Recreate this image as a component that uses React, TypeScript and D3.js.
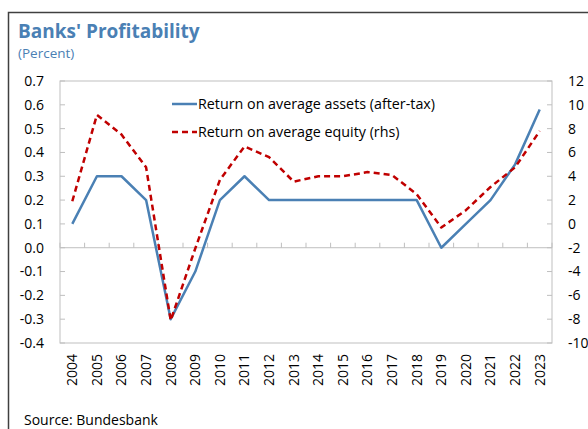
import React from "react";
import * as d3 from "d3";

const years = ["2004","2005","2006","2007","2008","2009","2010","2011","2012","2013","2014","2015","2016","2017","2018","2019","2020","2021","2022","2023"];
const roa = [0.1,0.3,0.3,0.2,-0.3,-0.1,0.2,0.3,0.2,0.2,0.2,0.2,0.2,0.2,0.2,0.0,0.1,0.2,0.35,0.58];
const roe = [1.9,9.15,7.5,4.75,-8.1,-2.05,3.7,6.5,5.6,3.55,4.0,4.0,4.35,4.1,2.5,-0.3,1.15,3.1,4.75,7.8];
const leftTicks = [0.7,0.6,0.5,0.4,0.3,0.2,0.1,0.0,-0.1,-0.2,-0.3,-0.4];
const rightTicks = [12,10,8,6,4,2,0,-2,-4,-6,-8,-10];
const seriesNames = ["Return on average assets (after-tax)", "Return on average equity (rhs)"];

const W = 588, H = 429;
const FONT = "'Open Sans', 'Noto Sans', sans-serif";
const BLUE = "#4a80b4";
const RED = "#c00000";
const GRID = "#bfbfbf";

export default function App() {
  const plotL = 60, plotR = 552, plotT = 81, plotB = 343;
  const x = d3.scaleBand<string>().domain(years).range([plotL, plotR]).padding(0);
  const bw = x.bandwidth();
  const cx = (y: string) => (x(y) as number) + bw / 2;
  const yL = d3.scaleLinear().domain([-0.4, 0.7]).range([plotB, plotT]);
  const yR = d3.scaleLinear().domain([-10, 12]).range([plotB, plotT]);

  const lineL = d3.line<number>().x((_, i) => cx(years[i])).y((d) => yL(d));
  const lineR = d3.line<number>().x((_, i) => cx(years[i])).y((d) => yR(d));

  const zeroY = yL(0);

  return (
    <svg width={W} height={H} style={{ position: "absolute", left: 0, top: 0 }} fontFamily={FONT}>
      <rect x={0} y={0} width={W} height={H} fill="#fff" />
      <rect x={8.5} y={12.5} width={W + 20} height={H + 20} fill="none" stroke="#404040" strokeWidth={1.5} />
      <text x={18} y={38} fill={BLUE} fontSize={19} fontWeight="bold">Banks' Profitability</text>
      <text x={18} y={58} fill={BLUE} fontSize={13.5}>(Percent)</text>

      {/* plot frame */}
      <rect x={plotL} y={plotT} width={plotR - plotL} height={plotB - plotT} fill="none" stroke={GRID} strokeWidth={1} />
      {/* zero line */}
      <line x1={plotL} x2={plotR} y1={zeroY} y2={zeroY} stroke={GRID} strokeWidth={1} />
      {d3.range(years.length + 1).map((i) => {
        const xx = plotL + i * bw;
        return <line key={"xt" + i} x1={xx} x2={xx} y1={zeroY} y2={zeroY - 5} stroke={GRID} strokeWidth={1} />;
      })}

      {/* left axis */}
      {leftTicks.map((t) => (
        <g key={"l" + t}>
          <line x1={plotL} x2={plotL + 5} y1={yL(t)} y2={yL(t)} stroke={GRID} />
          <text x={44} y={yL(t)} dy="0.35em" textAnchor="end" fontSize={14} fill="#000">{t.toFixed(1)}</text>
        </g>
      ))}
      {/* right axis */}
      {rightTicks.map((t) => (
        <g key={"r" + t}>
          <line x1={plotR - 5} x2={plotR} y1={yR(t)} y2={yR(t)} stroke={GRID} />
          <text x={568} y={yR(t)} dy="0.35em" textAnchor="start" fontSize={14} fill="#000">{t}</text>
        </g>
      ))}

      {/* x labels */}
      {years.map((yv) => (
        <text key={"x" + yv} transform={`translate(${cx(yv)},${354}) rotate(-90)`} textAnchor="end" dy="0.35em" fontSize={14} fill="#000">{yv}</text>
      ))}

      {/* series */}
      <path d={lineL(roa) || ""} fill="none" stroke={BLUE} strokeWidth={2.5} strokeLinejoin="round" />
      <path d={lineR(roe) || ""} fill="none" stroke={RED} strokeWidth={2.5} strokeDasharray="6,4" strokeLinejoin="round" />

      {/* legend */}
      <line x1={172} x2={197} y1={104} y2={104} stroke={BLUE} strokeWidth={2.5} />
      <text x={198} y={104} dy="0.35em" fontSize={14.3} fill="#000">{seriesNames[0]}</text>
      <line x1={172} x2={197} y1={132} y2={132} stroke={RED} strokeWidth={2.5} strokeDasharray="6,4" />
      <text x={198} y={132} dy="0.35em" fontSize={14.3} fill="#000">{seriesNames[1]}</text>

      <text x={24} y={425} fontSize={14} fill="#000">Source: Bundesbank</text>
    </svg>
  );
}
